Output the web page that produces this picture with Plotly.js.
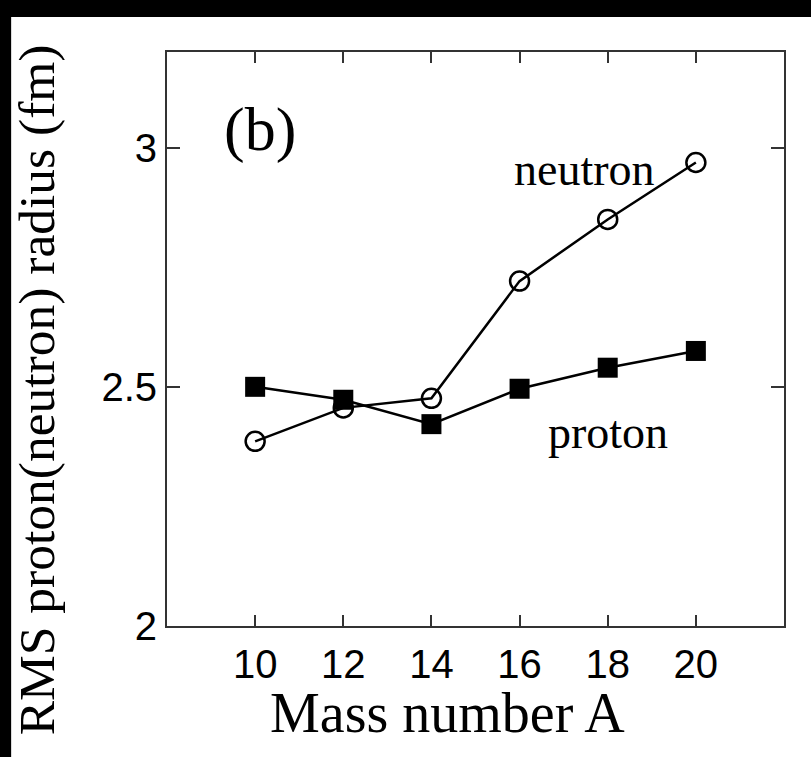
<!DOCTYPE html>
<html>
<head>
<meta charset="utf-8">
<script src="https://cdn.plot.ly/plotly-3.0.1.min.js"></script>
<style>
  html, body { margin: 0; padding: 0; background: #000; width: 811px; height: 757px; overflow: hidden; }
  #chart { position: absolute; left: 0; top: 0; width: 811px; height: 757px; }
</style>
</head>
<body>
<div id="chart"></div>
<script>
// Data
const massNumber = [10, 12, 14, 16, 18, 20];
const neutronRadius = [2.386, 2.456, 2.476, 2.721, 2.850, 2.969];
const protonRadius = [2.500, 2.473, 2.422, 2.496, 2.540, 2.575];
const xTickVals = [10, 12, 14, 16, 18, 20];
const yTickVals = [2, 2.5, 3];
const yTickText = ['2', '2.5', '3'];
const xTitle = 'Mass number A';
const yTitle = 'RMS proton(neutron) radius (fm)';

const serif = '"Liberation Serif", "Times New Roman", serif';
const sans = '"Liberation Sans", Arial, Helvetica, sans-serif';

const traces = [
  {
    x: massNumber, y: neutronRadius, type: 'scatter', mode: 'lines+markers', name: 'neutron',
    line: {color: '#000', width: 2.5},
    marker: {symbol: 'circle-open', size: 19, color: '#000', line: {color: '#000', width: 2.5}}
  },
  {
    x: massNumber, y: protonRadius, type: 'scatter', mode: 'lines+markers', name: 'proton',
    line: {color: '#000', width: 2.5},
    marker: {symbol: 'square', size: 20, color: '#000'}
  }
];

const axisCommon = {
  showline: true, linecolor: '#333', linewidth: 2, mirror: 'ticks',
  ticks: 'inside', tickcolor: '#333', tickwidth: 2,
  showgrid: false, zeroline: false,
  tickfont: {family: sans, size: 40, color: '#000'}
};

const layout = {
  width: 811, height: 757,
  margin: {l: 167, r: 26.5, t: 52, b: 131},
  paper_bgcolor: '#000', plot_bgcolor: '#fff',
  showlegend: false,
  shapes: [
    {type: 'rect', xref: 'paper', yref: 'paper', x0: -0.2526, x1: 1.05, y0: -0.24, y1: 1.061,
     fillcolor: '#fff', line: {width: 0}, layer: 'below'}
  ],
  xaxis: Object.assign({}, axisCommon, {
    range: [8, 22], tickvals: xTickVals, ticklen: 11,
    ticklabelstandoff: 2
  }),
  yaxis: Object.assign({}, axisCommon, {
    range: [2, 3.2], tickvals: yTickVals, ticktext: yTickText, ticklen: 13
  }),
  annotations: [
    {text: xTitle, x: 0.4548, y: -0.152, xref: 'paper', yref: 'paper', showarrow: false,
     font: {family: serif, size: 56, color: '#000'}, xanchor: 'center', yanchor: 'middle'},
    {text: yTitle, x: -0.211, y: 0.412, xref: 'paper', yref: 'paper', showarrow: false, textangle: -90,
     font: {family: serif, size: 51.5, color: '#000'}, xanchor: 'center', yanchor: 'middle'},
    {text: '(b)', x: 10.1, y: 3.037, xref: 'x', yref: 'y', showarrow: false,
     font: {family: serif, size: 62, color: '#000'}, xanchor: 'center', yanchor: 'middle'},
    {text: 'neutron', x: 17.47, y: 2.955, xref: 'x', yref: 'y', showarrow: false,
     font: {family: serif, size: 46, color: '#000'}, xanchor: 'center', yanchor: 'middle'},
    {text: 'proton', x: 18.0, y: 2.404, xref: 'x', yref: 'y', showarrow: false,
     font: {family: serif, size: 46, color: '#000'}, xanchor: 'center', yanchor: 'middle'}
  ]
};

Plotly.newPlot('chart', traces, layout, {displayModeBar: false, staticPlot: true});
</script>
</body>
</html>
